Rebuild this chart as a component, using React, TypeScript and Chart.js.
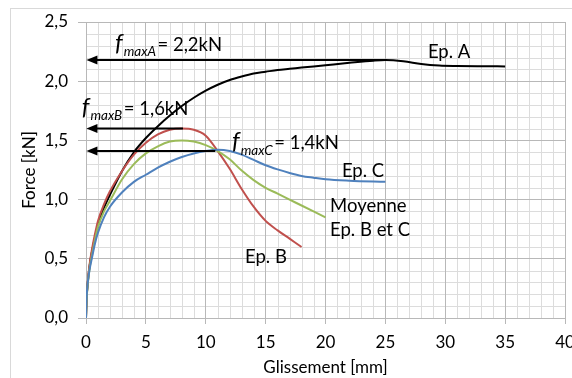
import React, { useEffect, useRef } from "react";
import { Chart, registerables } from "chart.js";

Chart.register(...registerables);

// ---- Data ----
const epAx = [0, 0.05, 0.15, 0.3, 0.5, 0.75, 1, 1.5, 2, 3, 4, 5, 6, 7, 8, 9, 10, 11, 12, 13, 14, 15, 16, 17, 18, 20, 22, 24, 25, 26.5, 28, 29.5, 31, 33, 35];
const epAy = [0, 0.16, 0.3, 0.44, 0.56, 0.68, 0.78, 0.93, 1.04, 1.24, 1.40, 1.52, 1.62, 1.71, 1.79, 1.86, 1.92, 1.97, 2.01, 2.04, 2.065, 2.08, 2.095, 2.105, 2.115, 2.135, 2.155, 2.173, 2.178, 2.168, 2.145, 2.132, 2.128, 2.126, 2.125];

const epBx = [0, 0.05, 0.15, 0.3, 0.5, 0.75, 1, 1.5, 2, 3, 4, 5, 6, 7, 8, 9, 10, 11, 12, 13, 14, 15, 16, 17, 18];
const epBy = [0, 0.16, 0.31, 0.45, 0.58, 0.71, 0.82, 0.96, 1.07, 1.24, 1.38, 1.48, 1.55, 1.59, 1.60, 1.59, 1.54, 1.41, 1.26, 1.09, 0.94, 0.82, 0.74, 0.67, 0.60];

const moyX = [0, 0.05, 0.15, 0.3, 0.5, 0.75, 1, 1.5, 2, 3, 4, 5, 6, 7, 8, 9, 10, 11, 12, 13, 14, 15, 16, 17, 18, 19, 20];
const moyY = [0, 0.15, 0.29, 0.42, 0.53, 0.66, 0.77, 0.9, 0.99, 1.17, 1.30, 1.39, 1.45, 1.49, 1.50, 1.49, 1.46, 1.41, 1.34, 1.245, 1.165, 1.10, 1.05, 1.00, 0.95, 0.90, 0.85];

const epCx = [0, 0.05, 0.15, 0.3, 0.5, 0.75, 1, 1.5, 2, 3, 4, 5, 6, 7, 8, 9, 10, 11, 12, 13, 14, 15, 16, 17, 18, 19, 20, 22, 25];
const epCy = [0, 0.17, 0.3, 0.41, 0.51, 0.63, 0.72, 0.85, 0.94, 1.06, 1.15, 1.21, 1.27, 1.32, 1.36, 1.39, 1.41, 1.42, 1.41, 1.38, 1.335, 1.29, 1.255, 1.225, 1.20, 1.185, 1.172, 1.16, 1.15];

// f_max reference arrows: level, end of the arrow (x), label
const fmaxNames = ["maxA", "maxB", "maxC"];
const fmaxLabels = ["= 2,2kN", "= 1,6kN", "= 1,4kN"];
const fmaxLevels = [2.18, 1.6, 1.41];
const fmaxEndX = [25, 8.1, 10.8];
const fmaxStartX = 0.12;
const fmaxTextX = [2.42, -0.36, 12.19];
const fmaxTextY = [2.258, 1.715, 1.425];

const curveLabels = ["Ep. A", "Ep. C", "Moyenne", "Ep. B et C", "Ep. B"];
const curveLabelX = [28.55, 21.37, 20.38, 20.38, 13.28];
const curveLabelY = [2.193, 1.193, 0.893, 0.693, 0.462];

const xTicks = [0, 5, 10, 15, 20, 25, 30, 35, 40];
const yTicks = [0, 0.5, 1.0, 1.5, 2.0, 2.5];

const FONT = "Lato, 'Open Sans', sans-serif";

const zip = (xs: number[], ys: number[]) => xs.map((x, i) => ({ x, y: ys[i] }));

export default function App() {
  const ref = useRef<HTMLCanvasElement>(null);

  useEffect(() => {
    const canvas = ref.current;
    if (!canvas) return;

    const outerBorder = {
      id: "outerBorder",
      beforeDraw(chart: any) {
        const ctx = chart.ctx;
        ctx.save();
        ctx.strokeStyle = "#d9d9d9";
        ctx.lineWidth = 1;
        ctx.strokeRect(10.5, 8.5, 700, 500);
        ctx.restore();
      },
    };

    const minorGrid = {
      id: "minorGrid",
      beforeDraw(chart: any) {
        const { ctx, chartArea, scales } = chart;
        const xs = scales.x;
        const ys = scales.y;
        ctx.save();
        ctx.strokeStyle = "#dcdcdc";
        ctx.lineWidth = 1;
        ctx.beginPath();
        for (let v = 1; v < 40; v++) {
          if (v % 5 === 0) continue;
          const px = Math.round(xs.getPixelForValue(v)) + 0.5;
          ctx.moveTo(px, chartArea.top);
          ctx.lineTo(px, chartArea.bottom);
        }
        for (let k = 1; k < 25; k++) {
          if (k % 5 === 0) continue;
          const py = Math.round(ys.getPixelForValue(k / 10)) + 0.5;
          ctx.moveTo(chartArea.left, py);
          ctx.lineTo(chartArea.right, py);
        }
        ctx.stroke();
        ctx.restore();
      },
    };

    const annotations = {
      id: "annotations",
      afterDatasetsDraw(chart: any) {
        const { ctx, scales } = chart;
        const xs = scales.x;
        const ys = scales.y;
        ctx.save();
        // arrowheads
        ctx.fillStyle = "#000";
        fmaxLevels.forEach((lvl) => {
          const tipX = xs.getPixelForValue(fmaxStartX) - 1;
          const py = ys.getPixelForValue(lvl);
          ctx.beginPath();
          ctx.moveTo(tipX, py);
          ctx.lineTo(tipX + 11, py - 4.5);
          ctx.lineTo(tipX + 11, py + 4.5);
          ctx.closePath();
          ctx.fill();
        });
        // f_max labels
        ctx.fillStyle = "#000";
        ctx.textBaseline = "alphabetic";
        ctx.textAlign = "left";
        fmaxNames.forEach((name, i) => {
          let x = xs.getPixelForValue(fmaxTextX[i]);
          const y = ys.getPixelForValue(fmaxTextY[i]);
          ctx.font = `italic 24px ${FONT}`;
          ctx.fillText("f", x, y);
          x += ctx.measureText("f").width + 1;
          ctx.font = `italic 13.5px ${FONT}`;
          ctx.fillText(name, x, y + 5.5);
          x += ctx.measureText(name).width + 1.5;
          ctx.font = `18.5px ${FONT}`;
          ctx.fillText(fmaxLabels[i], x, y);
        });
        // curve labels
        ctx.font = `18.5px ${FONT}`;
        curveLabels.forEach((t, i) => {
          ctx.fillText(t, xs.getPixelForValue(curveLabelX[i]), ys.getPixelForValue(curveLabelY[i]));
        });
        ctx.restore();
      },
    };

    const lineDs = (data: any[], color: string, width = 2, mode = "monotone") => ({
      data,
      borderColor: color,
      backgroundColor: color,
      borderWidth: width,
      showLine: true,
      pointRadius: 0,
      tension: 0.3,
      cubicInterpolationMode: mode as any,
      fill: false,
    });

    const arrowSets = fmaxLevels.map((lvl, i) =>
      lineDs(
        [
          { x: fmaxStartX + 0.8, y: lvl },
          { x: fmaxEndX[i], y: lvl },
        ],
        "#000",
        2,
        "default"
      )
    );

    const chart = new Chart(canvas, {
      type: "scatter",
      data: {
        datasets: [
          ...arrowSets,
          lineDs(zip(epCx, epCy), "#4f81bd"),
          lineDs(zip(moyX, moyY), "#9bbb59"),
          lineDs(zip(epBx, epBy), "#c0504d"),
          lineDs(zip(epAx, epAy), "#000000"),
        ],
      },
      options: {
        animation: false,
        responsive: false,
        devicePixelRatio: 1,
        layout: { padding: { left: 18, right: 7, top: 22, bottom: 0 } },
        plugins: {
          legend: { display: false },
          tooltip: { enabled: false },
        },
        scales: {
          x: {
            type: "linear",
            min: 0,
            max: 40,
            afterBuildTicks: (scale: any) => {
              scale.ticks = xTicks.map((v) => ({ value: v }));
            },
            afterFit: (scale: any) => {
              scale.height = 60;
              scale.paddingLeft = 0;
              scale.paddingRight = 0;
            },
            ticks: {
              color: "#000",
              font: { family: FONT, size: 17 },
              padding: 8,
              maxRotation: 0,
              autoSkip: false,
              callback: (v: any) => String(v),
            },
            grid: { color: "#b8b8b8", tickLength: 6, lineWidth: 1 },
            border: { color: "#b8b8b8" },
            title: {
              display: true,
              text: "Glissement [mm]",
              color: "#000",
              font: { family: FONT, size: 17 },
              padding: { top: 0, bottom: 0 },
            },
          },
          y: {
            type: "linear",
            min: 0,
            max: 2.5,
            afterBuildTicks: (scale: any) => {
              scale.ticks = yTicks.map((v) => ({ value: v }));
            },
            afterFit: (scale: any) => {
              scale.width = 68;
              scale.paddingTop = 0;
              scale.paddingBottom = 0;
            },
            ticks: {
              color: "#000",
              font: { family: FONT, size: 17 },
              padding: 10,
              autoSkip: false,
              callback: (v: any) => Number(v).toFixed(1).replace(".", ","),
            },
            grid: { color: "#b8b8b8", tickLength: 8, lineWidth: 1 },
            border: { color: "#b8b8b8" },
            title: {
              display: true,
              text: "Force [kN]",
              color: "#000",
              font: { family: FONT, size: 17 },
              padding: { top: 1, bottom: 0 },
            },
          },
        },
      },
      plugins: [outerBorder, minorGrid, annotations],
    });

    return () => chart.destroy();
  }, []);

  return (
    <div style={{ position: "fixed", left: 0, top: 0, width: 572, height: 378, background: "#fff" }}>
      <canvas ref={ref} width={572} height={378} style={{ display: "block", width: 572, height: 378 }} />
    </div>
  );
}
